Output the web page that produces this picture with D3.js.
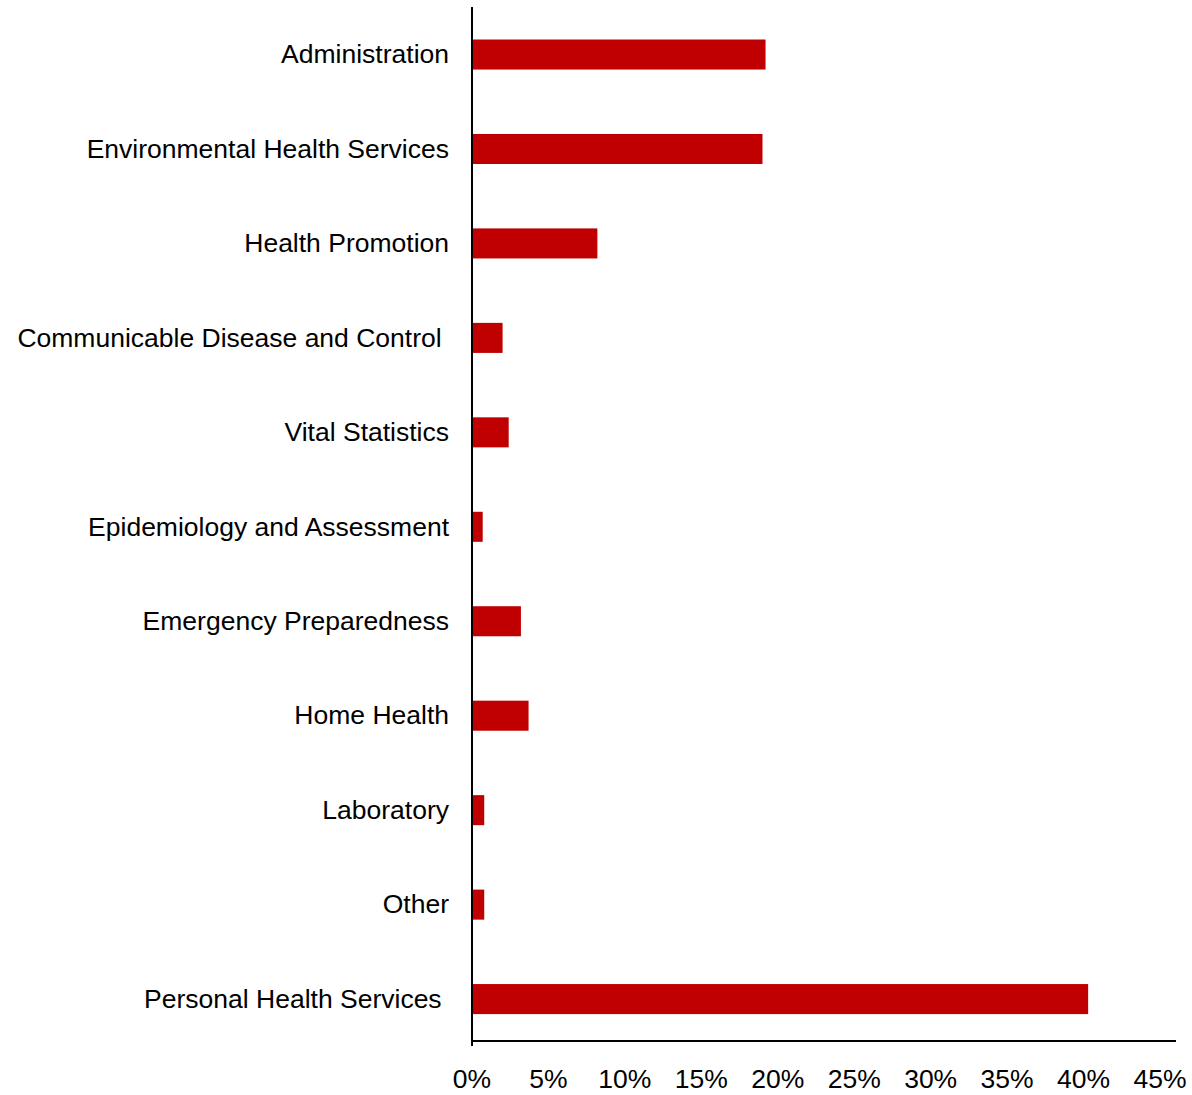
<!DOCTYPE html>
<html>
<head>
<meta charset="utf-8">
<script src="https://cdn.jsdelivr.net/npm/d3@7"></script>
<style>
  html, body { margin: 0; padding: 0; background: #fff; }
  svg text { font-family: "Liberation Sans", Arial, sans-serif; }
</style>
</head>
<body>
<svg id="chart" width="1192" height="1095"></svg>
<script>
// Share of spending by program area
const categories = [
  "Administration",
  "Environmental Health Services",
  "Health Promotion",
  "Communicable Disease and Control ",
  "Vital Statistics",
  "Epidemiology and Assessment",
  "Emergency Preparedness",
  "Home Health",
  "Laboratory",
  "Other",
  "Personal Health Services "
];
const shares = [19.2, 19.0, 8.2, 2.0, 2.4, 0.7, 3.2, 3.7, 0.8, 0.8, 40.3];
const tickValues = [0, 5, 10, 15, 20, 25, 30, 35, 40, 45];

const svg = d3.select("#chart");
const plotLeft = 472, plotTop = 7, plotBottom = 1041, plotRight = 1176;
const fontSize = 26.5;

const x = d3.scaleLinear().domain([0, 45]).range([plotLeft, 1160]);
const y = d3.scaleBand().domain(categories).range([7.3, 1046.3]).paddingInner(0.682).paddingOuter(0.341);

// bars
svg.append("g").selectAll("rect")
  .data(categories)
  .join("rect")
  .attr("x", x(0))
  .attr("y", d => y(d))
  .attr("width", (d, i) => x(shares[i]) - x(0))
  .attr("height", y.bandwidth())
  .attr("fill", "#C00000");

// category labels
svg.append("g").selectAll("text")
  .data(categories)
  .join("text")
  .attr("x", 449)
  .attr("y", d => y(d) + y.bandwidth() / 2)
  .attr("dy", "0.33em")
  .attr("text-anchor", "end")
  .style("white-space", "pre")
  .attr("font-size", fontSize)
  .attr("fill", "#000")
  .text(d => d);

// axis lines
svg.append("line")
  .attr("x1", plotLeft).attr("x2", plotLeft)
  .attr("y1", plotTop).attr("y2", plotBottom + 5)
  .attr("stroke", "#000").attr("stroke-width", 2);
svg.append("line")
  .attr("x1", plotLeft).attr("x2", plotRight)
  .attr("y1", plotBottom).attr("y2", plotBottom)
  .attr("stroke", "#000").attr("stroke-width", 2);

// tick labels
svg.append("g").selectAll("text")
  .data(tickValues)
  .join("text")
  .attr("x", d => x(d))
  .attr("y", 1088)
  .attr("text-anchor", "middle")
  .attr("font-size", fontSize)
  .attr("fill", "#000")
  .text(d => d + "%");
</script>
</body>
</html>
